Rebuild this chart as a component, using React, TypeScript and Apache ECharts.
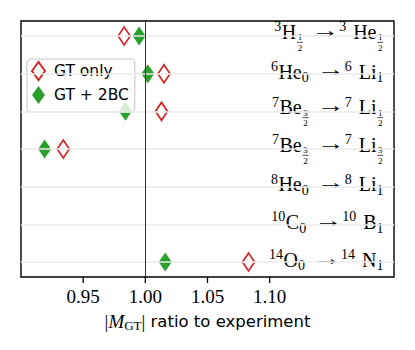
import React, { useEffect, useRef } from "react";
import * as echarts from "echarts";

// ---- data ----
const CATEGORIES: string[] = [
  "^3H_{1/2} →^3 He_{1/2}",
  "^6He_0 →^6 Li_1",
  "^7Be_{3/2} →^7 Li_{1/2}",
  "^7Be_{3/2} →^7 Li_{3/2}",
  "^8He_0 →^8 Li_1",
  "^{10}C_0 →^{10} B_1",
  "^{14}O_0 →^{14} N_1",
];
const GT_ONLY: (number | null)[] = [0.983, 1.015, 1.013, 0.934, null, null, 1.083];
const GT_2BC: (number | null)[] = [0.995, 1.002, 0.984, 0.919, null, null, 1.016];
const X_TICKS: number[] = [0.95, 1.0, 1.05, 1.1];
const X_MIN = 0.9;
const X_MAX = 1.2;
const REFERENCE = 1.0;

const MATH_FONT = "Liberation Serif, DejaVu Serif, serif";
const SANS_FONT = "DejaVu Sans, Noto Sans, sans-serif";
const F = 20;
const ARROW_STRETCH = 1.4;

type Tok = { k: "main" | "sup" | "sub" | "frac"; t: string; d?: string };

function parseLabel(s: string): Tok[] {
  const re = /\^\{?(\d+)\}?|_\{(\d+)\/(\d+)\}|_(\d+)|([^^_]+)/g;
  const out: Tok[] = [];
  let m: RegExpExecArray | null;
  while ((m = re.exec(s))) {
    if (m[1] !== undefined) out.push({ k: "sup", t: m[1] });
    else if (m[2] !== undefined) out.push({ k: "frac", t: m[2], d: m[3] });
    else if (m[4] !== undefined) out.push({ k: "sub", t: m[4] });
    else out.push({ k: "main", t: m[5] });
  }
  return out;
}

let ctx: CanvasRenderingContext2D | null = null;
function tw(t: string, size: number): number {
  if (!ctx) ctx = document.createElement("canvas").getContext("2d");
  if (!ctx) return t.length * size * 0.5;
  ctx.font = `${size}px ${MATH_FONT}`;
  return ctx.measureText(t).width;
}

const MID = 0.32; // alphabetic baseline -> middle offset (em)

function txt(x: number, y: number, text: string, size: number, align = "left", lh?: number) {
  const style: any = {
    text,
    fontSize: size,
    fontFamily: MATH_FONT,
    fill: "#000",
    align,
    verticalAlign: "middle",
  };
  if (lh) style.lineHeight = lh;
  return { type: "text", x, y, style };
}

function renderLabel(params: any, api: any) {
  const row = api.value(1);
  const p = api.coord([api.value(0), row]);
  const toks = parseLabel(CATEGORIES[row]);
  const hasFrac = toks.some((t) => t.k === "frac");
  const B = p[1] + (hasFrac ? 2.5 : 4.2);
  const S = F * 0.7;
  const R = 9;
  const spaceW = tw(" ", F);
  const items = toks.map((t) => {
    if (t.k === "main") {
      const body = t.t.trim();
      const isArrow = body === "→";
      const lead = t.t.startsWith(" ") ? spaceW * (isArrow ? 1.5 : 1.3) : 0;
      const bw = tw(body, F) * (isArrow ? ARROW_STRETCH : 1);
      return { lead, body, isArrow, w: lead + bw };
    }
    if (t.k === "sup" || t.k === "sub") return { lead: 0, body: t.t, isArrow: false, w: tw(t.t, S) + 0.5 };
    return { lead: 0, body: t.t, isArrow: false, w: Math.max(tw(t.t, R), tw(t.d || "", R)) + 3 };
  });
  const total = items.reduce((a, b) => a + b.w, 0);
  let x = p[0] - 10 - total;
  const children: any[] = [];
  toks.forEach((t, i) => {
    const it = items[i];
    const w = it.w;
    if (t.k === "main") {
      const el: any = txt(x + it.lead, B - MID * F - (it.isArrow ? 2 : 0), it.body, F);
      if (it.isArrow) el.scaleX = ARROW_STRETCH;
      children.push(el);
    } else if (t.k === "sup") {
      children.push(txt(x, B - 0.36 * F - MID * S, t.t, S));
    } else if (t.k === "sub") {
      children.push(txt(x, B + 0.2 * F - MID * S, t.t, S));
    } else {
      const bar = B + 0.19 * F;
      const cx = x + w / 2;
      children.push({
        type: "line",
        shape: { x1: x + 0.8, y1: bar, x2: x + w - 0.8, y2: bar },
        style: { stroke: "#000", lineWidth: 0.7 },
      });
      children.push(txt(cx, bar - 2 - MID * R, t.t, R, "center", 7));
      children.push(txt(cx, bar + 2.2 + 0.66 * R - MID * R, t.d || "", R, "center", 7));
    }
    x += w;
  });
  return { type: "group", children };
}

// tick marks at the bottom edge of the plot, placed through the x scale
function renderTick(params: any, api: any) {
  const cs = params.coordSys;
  const px = api.coord([api.value(0), 0])[0];
  const yb = cs.y + cs.height;
  return {
    type: "line",
    shape: { x1: px, y1: yb, x2: px, y2: yb + 6 },
    style: { stroke: "#000", lineWidth: 1.3 },
  };
}

function toPoints(vals: (number | null)[]): number[][] {
  const out: number[][] = [];
  vals.forEach((v, i) => {
    if (v !== null) out.push([v, i]);
  });
  return out;
}

export default function App() {
  const ref = useRef<HTMLDivElement>(null);
  useEffect(() => {
    if (!ref.current) return;
    const chart = echarts.init(ref.current, undefined, { renderer: "svg" });
    chart.setOption({
      animation: false,
      backgroundColor: "#fff",
      grid: {
        left: 21,
        right: 21,
        top: 21,
        bottom: 73,
        show: true,
        borderColor: "#000",
        borderWidth: 1.4,
        backgroundColor: "transparent",
      },
      legend: {
        data: ["GT only", "GT + 2BC"],
        orient: "vertical",
        left: 27,
        top: 59,
        itemWidth: 13,
        itemHeight: 18,
        itemGap: 5,
        padding: [2, 6, 8, 4],
        backgroundColor: "rgba(255,255,255,0.8)",
        borderColor: "#cccccc",
        borderWidth: 1.2,
        borderRadius: 4,
        textStyle: { fontFamily: SANS_FONT, fontSize: 15.5, color: "#000", padding: [0, 0, 0, 4] },
      },
      xAxis: {
        type: "value",
        min: X_MIN,
        max: X_MAX,
        interval: 0.05,
        position: "bottom",
        axisLine: { show: false, onZero: false },
        splitLine: { show: false },
        axisTick: { show: false },
        axisLabel: {
          customValues: X_TICKS,
          formatter: (v: number) => v.toFixed(2),
          fontFamily: MATH_FONT,
          fontSize: 19,
          color: "#000",
          margin: 10,
        },
        name: "{bar||}{m|M}{sub|GT}{bar||}{t| ratio to experiment}",
        nameLocation: "middle",
        nameGap: 34,
        nameTextStyle: {
          rich: {
            bar: { fontFamily: MATH_FONT, fontSize: 19, color: "#000" },
            m: { fontFamily: MATH_FONT, fontSize: 19, fontStyle: "italic", color: "#000" },
            sub: { fontFamily: MATH_FONT, fontSize: 13, color: "#000", padding: [8, 0, 0, 0] },
            t: { fontFamily: SANS_FONT, fontSize: 16.5, color: "#000" },
          },
        },
      },
      yAxis: {
        type: "value",
        min: -0.4,
        max: 6.4,
        inverse: true,
        show: false,
        axisLine: { onZero: false },
        splitLine: { show: false },
      },
      series: [
        {
          name: "_grid",
          type: "scatter",
          data: [],
          z: 1,
          silent: true,
          markLine: {
            silent: true,
            symbol: "none",
            label: { show: false },
            lineStyle: { color: "#ebebeb", width: 1.5, type: "solid" },
            emphasis: { disabled: true },
            data: CATEGORIES.map((_, i) => ({ yAxis: i })),
          },
        },
        {
          name: "_ref",
          type: "scatter",
          data: [],
          z: 2,
          silent: true,
          markLine: {
            silent: true,
            symbol: "none",
            label: { show: false },
            lineStyle: { color: "#333", width: 1, type: "solid" },
            emphasis: { disabled: true },
            data: [{ xAxis: REFERENCE }],
          },
        },
        {
          name: "GT only",
          type: "scatter",
          z: 3,
          symbol: "diamond",
          symbolSize: [12, 18],
          itemStyle: { color: "#fff", borderColor: "#d62728", borderWidth: 1.8, opacity: 1 },
          data: toPoints(GT_ONLY),
        },
        {
          name: "GT + 2BC",
          type: "scatter",
          z: 3,
          symbol: "diamond",
          symbolSize: [13, 19],
          itemStyle: { color: "#2ca02c", opacity: 1 },
          data: toPoints(GT_2BC),
        },
        {
          name: "_labels",
          type: "custom",
          z: 4,
          silent: true,
          renderItem: renderLabel,
          encode: { x: 0, y: 1 },
          data: CATEGORIES.map((_, i) => [X_MAX, i]),
        },
        {
          name: "_ticks",
          type: "custom",
          z: 10,
          silent: true,
          clip: false,
          renderItem: renderTick,
          encode: { x: 0, y: 1 },
          data: X_TICKS.map((v) => [v, 0]),
        },
      ],
    });
    return () => chart.dispose();
  }, []);
  return (
    <div
      ref={ref}
      style={{ position: "absolute", left: 0, top: 0, width: 415, height: 350 }}
    />
  );
}
